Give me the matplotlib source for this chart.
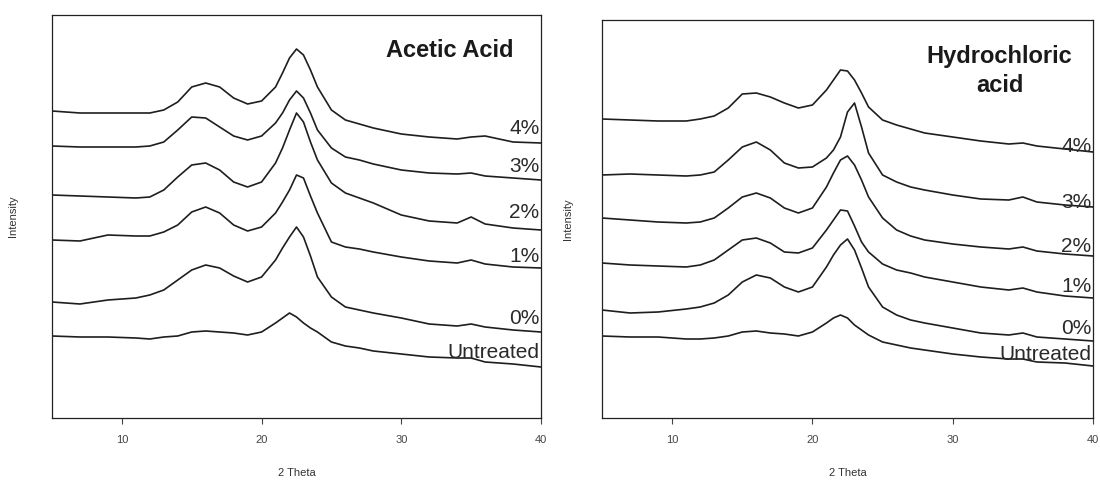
import matplotlib
matplotlib.use("Agg")
import matplotlib.pyplot as plt

# ---- data (2-theta grid, intensities in arbitrary units) ----
theta = [5, 7, 9, 11, 12, 13, 14, 15, 16, 17, 18, 19, 20, 21, 21.5, 22, 22.5, 23,
         23.5, 24, 25, 26, 27, 28, 30, 32, 34, 35, 36, 38, 40]

series_labels = ["4%", "3%", "2%", "1%", "0%", "Untreated"]

acetic_4 = [307, 305, 305, 305, 305, 308, 316, 331, 335, 331, 320, 314, 317, 331, 345, 360, 369, 363,
            348, 331, 308, 298, 294, 290, 284, 281, 279, 281, 282, 276, 275]
acetic_3 = [272, 271, 271, 271, 272, 276, 288, 301, 300, 291, 282, 278, 282, 295, 305, 318, 327, 320,
            305, 288, 270, 261, 258, 254, 248, 245, 244, 245, 242, 240, 238]
acetic_2 = [223, 222, 221, 220, 221, 228, 241, 253, 255, 248, 236, 231, 236, 255, 270, 288, 305, 296,
            276, 258, 235, 225, 220, 215, 203, 197, 195, 201, 194, 190, 188]
acetic_1 = [178, 177, 183, 182, 182, 186, 193, 206, 211, 205, 193, 187, 191, 205, 216, 228, 243, 240,
            222, 205, 176, 171, 169, 166, 161, 157, 155, 158, 154, 151, 150]
acetic_0 = [116, 114, 118, 120, 123, 128, 138, 148, 153, 150, 142, 136, 141, 158, 170, 181, 191, 181,
            162, 141, 121, 111, 108, 105, 100, 94, 92, 94, 91, 88, 86]
acetic_u = [82, 81, 81, 80, 79, 81, 82, 86, 87, 86, 85, 83, 86, 95, 100, 105, 101, 95,
            90, 86, 76, 72, 70, 67, 64, 61, 60, 60, 56, 54, 51]

hcl_4 = [299, 298, 297, 297, 299, 302, 310, 324, 325, 321, 315, 310, 313, 328, 338, 348, 347, 338,
         325, 311, 298, 293, 289, 285, 281, 277, 274, 275, 272, 269, 266]
hcl_3 = [243, 244, 243, 242, 243, 246, 258, 271, 276, 268, 255, 250, 251, 260, 268, 281, 306, 315,
         291, 265, 243, 236, 231, 228, 223, 219, 218, 221, 216, 213, 211]
hcl_2 = [200, 198, 196, 195, 196, 200, 210, 221, 225, 220, 210, 205, 210, 231, 245, 258, 262, 253,
         238, 221, 200, 188, 182, 178, 174, 171, 169, 171, 167, 164, 162]
hcl_1 = [155, 153, 152, 151, 153, 158, 168, 178, 180, 175, 166, 165, 170, 188, 198, 208, 207, 192,
         176, 166, 154, 148, 145, 141, 136, 131, 128, 130, 126, 122, 120]
hcl_0 = [108, 105, 106, 109, 111, 115, 123, 136, 143, 140, 131, 126, 131, 151, 163, 173, 179, 168,
         150, 131, 111, 103, 98, 95, 90, 85, 83, 85, 81, 79, 77]
hcl_u = [82, 81, 81, 79, 79, 80, 82, 86, 87, 85, 84, 82, 86, 95, 100, 103, 100, 93,
         88, 83, 76, 73, 70, 68, 64, 61, 59, 59, 56, 55, 52]

x_ticks = [10, 20, 30, 40]

plt.rcParams['font.family'] = ['Liberation Sans', 'DejaVu Sans']

fig = plt.figure(figsize=(11, 4.8), dpi=100)
ax1 = fig.add_axes([52/1100, 62/480, 489/1100, 403/480])
ax2 = fig.add_axes([602/1100, 62/480, 491/1100, 398/480])

line_color = "#1e1e1e"
text_color = "#2a2a2a"

panels = [
    (ax1, [acetic_4, acetic_3, acetic_2, acetic_1, acetic_0, acetic_u], "Acetic Acid", 403,
     [14, 13, 17, 12, 14, 15], -0.070),
    (ax2, [hcl_4, hcl_3, hcl_2, hcl_1, hcl_0, hcl_u], "Hydrochloric\nacid", 398,
     [5, 5, 10, 11, 13, 11], -0.059),
]

for ax, curves, title, ytop, offs, ylab_x in panels:
    for vals, lab, off in zip(curves, series_labels, offs):
        ax.plot(theta, vals, color=line_color, lw=1.2)
        ax.text(39.9, vals[-1] + off, lab, ha="right", va="center",
                fontsize=15, color=text_color)
    ax.set_xlim(5, 40)
    ax.set_ylim(0, ytop)
    ax.set_xticks(x_ticks)
    ax.set_xticklabels([str(t) for t in x_ticks])
    ax.set_yticks([])
    ax.tick_params(axis="x", direction="out", length=4, width=0.8,
                   labelsize=8, colors="#444444", pad=8)
    for sp in ax.spines.values():
        sp.set_color("#222222")
        sp.set_linewidth(0.9)
    ax.set_xlabel("2 Theta", fontsize=8, color="#333333", labelpad=17)
    ax.set_ylabel("Intensity", fontsize=8, color="#333333")
    ax.yaxis.set_label_coords(ylab_x, 0.5)

ax1.text(0.814, 0.913, "Acetic Acid", transform=ax1.transAxes, ha="center", va="center",
         fontsize=17, fontweight="bold", color="#1a1a1a")
ax2.text(0.81, 0.872, "Hydrochloric\nacid", transform=ax2.transAxes, ha="center", va="center",
         fontsize=17, fontweight="bold", color="#1a1a1a", linespacing=1.35)

fig.savefig("out.png", dpi=100)
